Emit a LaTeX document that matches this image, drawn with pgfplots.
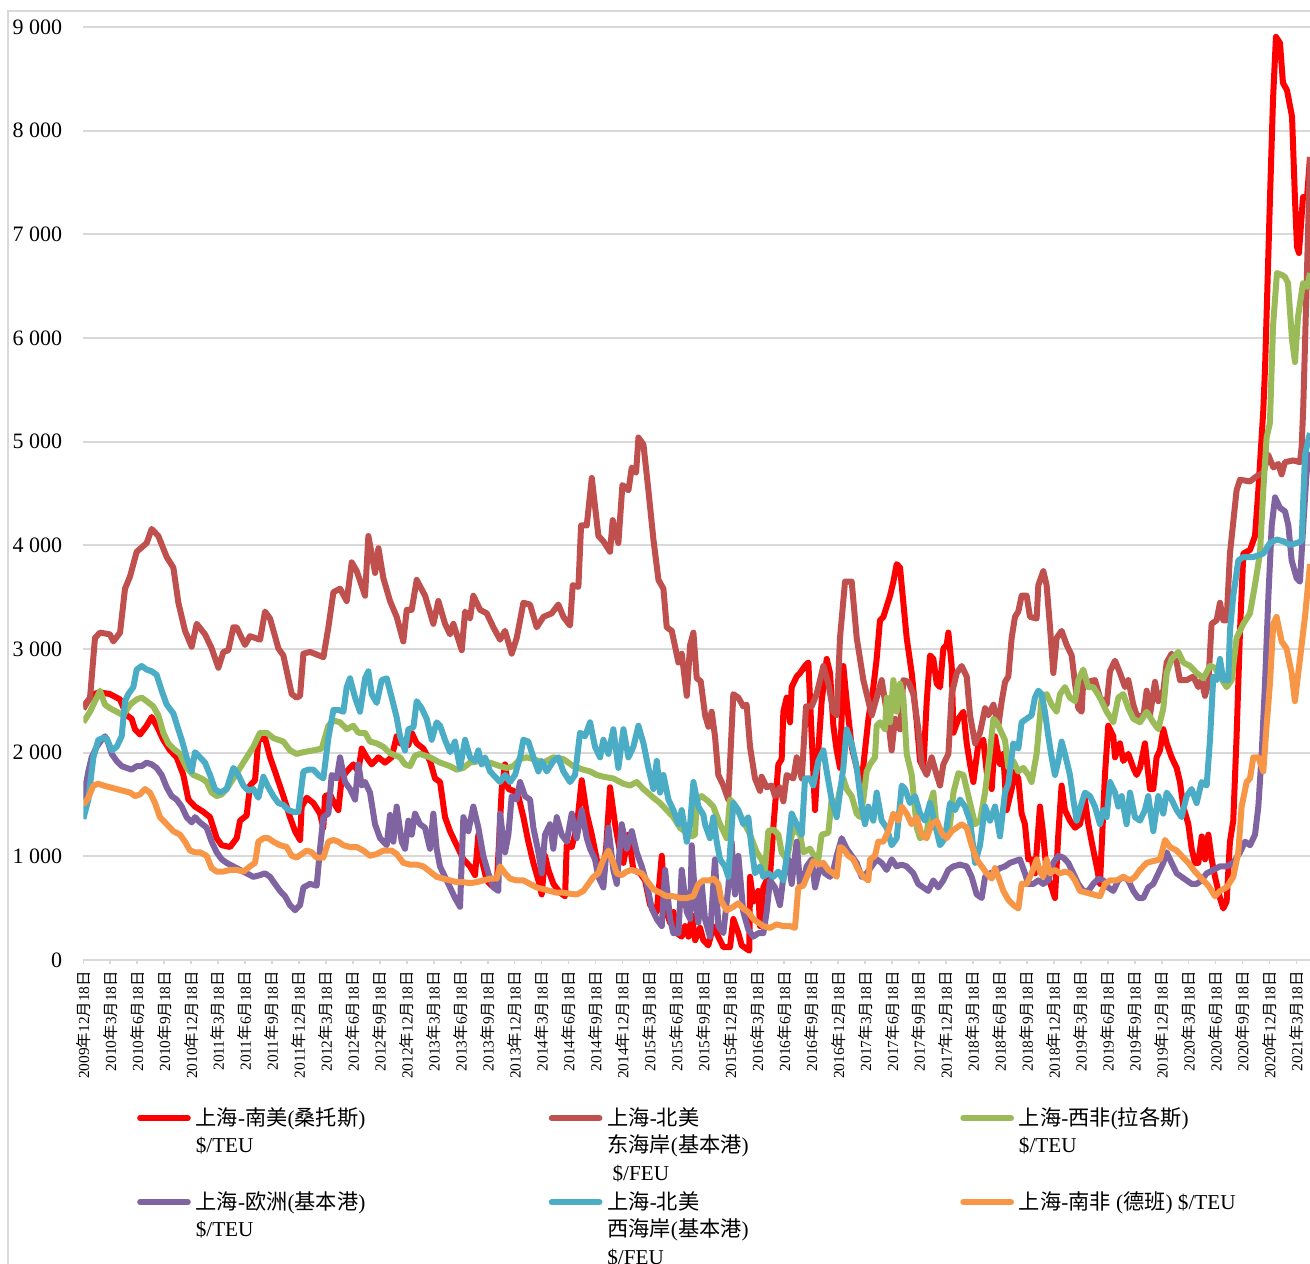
\documentclass[border=0pt]{standalone}
\usepackage{fontspec}
\setmainfont{Liberation Serif}
\newfontfamily\cjk{Noto Sans CJK SC}
\usepackage{pgfplots}
\pgfplotsset{compat=1.18}
\definecolor{cRed}{HTML}{FF0000}
\definecolor{cDRed}{HTML}{C0504D}
\definecolor{cGreen}{HTML}{9BBB59}
\definecolor{cPurple}{HTML}{8064A2}
\definecolor{cCyan}{HTML}{4BACC6}
\definecolor{cOrange}{HTML}{F79646}
\definecolor{cGrid}{HTML}{D9D9D9}
\newcommand\zh[1]{{\cjk #1}}
\newcommand\dlab[2]{#1\zh{年}#2\zh{月}18\zh{日}}
\newcommand\legtxt[1]{\parbox[t]{150pt}{\fontsize{10.6}{13.75}\selectfont\raggedright #1}}
\begin{document}
\begin{tikzpicture}
\useasboundingbox (0pt,0pt) rectangle (655pt,631.5pt);
\draw[cGrid, line width=1pt] (4pt,-20pt) -- (4pt,626pt) -- (700pt,626pt);
\begin{axis}[
  at={(41.65pt,151.5pt)}, anchor=south west,
  scale only axis, width=613.35pt, height=466.5pt,
  xmin=0, xmax=136.5, ymin=0, ymax=9000,
  axis x line*=bottom, axis y line*=left,
  x axis line style={cGrid, line width=1pt},
  y axis line style={draw=none},
  xtick={0,3,...,135},
  xticklabels={\dlab{2009}{12},\dlab{2010}{3},\dlab{2010}{6},\dlab{2010}{9},\dlab{2010}{12},\dlab{2011}{3},\dlab{2011}{6},\dlab{2011}{9},\dlab{2011}{12},\dlab{2012}{3},\dlab{2012}{6},\dlab{2012}{9},\dlab{2012}{12},\dlab{2013}{3},\dlab{2013}{6},\dlab{2013}{9},\dlab{2013}{12},\dlab{2014}{3},\dlab{2014}{6},\dlab{2014}{9},\dlab{2014}{12},\dlab{2015}{3},\dlab{2015}{6},\dlab{2015}{9},\dlab{2015}{12},\dlab{2016}{3},\dlab{2016}{6},\dlab{2016}{9},\dlab{2016}{12},\dlab{2017}{3},\dlab{2017}{6},\dlab{2017}{9},\dlab{2017}{12},\dlab{2018}{3},\dlab{2018}{6},\dlab{2018}{9},\dlab{2018}{12},\dlab{2019}{3},\dlab{2019}{6},\dlab{2019}{9},\dlab{2019}{12},\dlab{2020}{3},\dlab{2020}{6},\dlab{2020}{9},\dlab{2020}{12},\dlab{2021}{3}},
  xtick style={cGrid, line width=0.8pt},
  tick align=outside,
  major tick length=2pt,
  ytick={0,1000,...,9000},
  ytick style={draw=none},
  ymajorgrids, grid style={cGrid, line width=0.9pt},
  yticklabel style={font=\fontsize{11}{13}\selectfont, xshift=-5pt},
  /pgf/number format/assume math mode=true,
  /pgf/number format/1000 sep={\ },
  scaled y ticks=false,
  xticklabel style={rotate=90, anchor=east, font=\fontsize{7.7}{8}\selectfont},
  every axis plot/.append style={line width=3pt, line join=round},
  legend columns=3,
  legend style={at={(0.0436,-0.1533)}, anchor=north west, draw=none, fill=none, inner sep=0pt, column sep=0pt, row sep=27.5pt,
    cells={anchor=base west, inner sep=0pt},
    /tikz/every odd column/.append style={column sep=0.5pt},
    /tikz/every even column/.append style={column sep=24.5pt}},
  legend image code/.code={\draw[line width=2.8pt, line cap=round] (0pt,3.6pt) -- (24pt,3.6pt);},
]
% 上海-南美(桑托斯)
\addplot[cRed] coordinates {(0,2446) (1.12,2565) (1.86,2582) (2.97,2565) (4.08,2514) (4.82,2361) (5.38,2327) (5.75,2226) (6.31,2175) (7.05,2260) (7.61,2344) (8.16,2260) (8.9,2124) (9.65,2022) (10.39,1955) (11.13,1785) (11.69,1548) (12.43,1480) (13.36,1429) (14.1,1378) (14.84,1175) (15.4,1107) (16.33,1090) (17.07,1175) (17.44,1344) (18.18,1395) (18.55,1683) (19.11,1734) (19.48,2124) (20.22,2141) (20.78,1955) (21.33,1819) (22.26,1581) (23,1378) (23.56,1243) (24.12,1158) (24.3,1480) (24.86,1565) (25.6,1514) (26.34,1412) (26.71,1276) (26.9,1581) (27.45,1598) (28.01,1497) (28.38,1446) (28.75,1751) (29.31,1819) (30.05,1887) (30.6,1819) (30.98,2039) (31.53,1955) (32.09,1887) (32.83,1955) (33.57,1904) (34.31,1955) (34.87,2158) (35.24,2090) (36.17,2073) (36.54,2192) (37.1,2090) (37.84,2039) (38.58,1920) (39.14,1751) (39.7,1717) (40.25,1378) (40.81,1243) (41.36,1141) (41.74,1073) (42.29,971) (43.03,903) (43.59,819) (43.96,1209) (44.33,971) (44.89,768) (45.44,717) (46,700) (46.56,1649) (46.93,1887) (47.3,1649) (47.86,1632) (48.41,1581) (48.97,1378) (49.52,1141) (50.08,937) (50.64,768) (51.01,632) (51.38,1005) (51.75,869) (52.31,734) (53.05,649) (53.61,615) (53.79,1107) (54.35,1090) (54.9,1276) (55.46,1734) (56.02,1412) (56.58,1209) (57.13,971) (57.69,785) (58.17,1073) (58.61,1666) (59.17,1310) (59.73,1039) (60.1,937) (60.66,1209) (61.21,869) (61.96,836) (62.51,768) (63.07,531) (63.81,463) (64.37,1005) (64.74,497) (65.29,361) (65.67,463) (66.04,259) (66.59,225) (66.96,327) (67.34,225) (67.71,429) (68.08,191) (68.63,310) (68.99,191) (69.55,141) (70.1,327) (70.66,225) (71.22,124) (71.96,124) (72.33,395) (72.89,259) (73.26,141) (73.81,107) (74.11,90) (74.19,802) (74.56,564) (75.11,666) (75.3,327) (75.67,700) (76.04,768) (76.41,802) (76.78,1276) (77.34,1887) (77.71,1937) (77.9,2395) (78.27,2531) (78.64,2293) (78.82,2632) (79.38,2734) (79.75,2768) (80.3,2836) (80.68,2870) (81.05,2158) (81.42,1446) (81.79,2022) (82.16,2497) (82.72,2904) (83.09,2768) (83.46,2260) (83.83,2022) (84.2,1853) (84.57,2836) (84.94,2497) (85.5,2056) (86.06,1853) (86.61,1717) (86.98,2022) (87.36,2327) (87.91,2632) (88.28,2904) (88.65,3277) (89.03,3310) (89.4,3412) (89.77,3514) (90.14,3650) (90.51,3819) (90.88,3785) (91.25,3446) (91.62,3107) (92.18,2768) (92.74,2293) (93.11,1920) (93.48,1853) (93.85,2497) (94.22,2938) (94.59,2904) (94.96,2666) (95.33,2632) (95.7,3005) (96.07,3039) (96.26,3158) (96.63,2836) (96.82,2192) (97.37,2327) (97.93,2395) (98.3,2090) (98.67,1887) (99.04,1717) (99.6,2090) (100.15,2124) (100.52,1819) (101.08,1649) (101.45,2158) (102,1890) (102.37,1988) (102.74,1446) (103.3,1649) (103.67,1819) (104.04,1751) (104.41,1412) (104.78,1310) (105.15,971) (105.52,971) (105.9,836) (106.45,1480) (106.82,1209) (107.19,836) (107.75,700) (108.12,598) (108.49,1209) (108.86,1683) (109.23,1446) (109.79,1344) (110.35,1276) (110.9,1310) (111.46,1548) (111.83,1310) (112.2,1141) (112.76,903) (113.13,734) (113.68,1785) (114.05,2260) (114.61,2158) (114.8,1955) (115.35,2090) (115.72,1920) (116.28,1988) (116.84,1853) (117.21,1785) (117.58,1853) (118.13,2090) (118.69,1649) (119.06,1649) (119.43,1955) (119.8,2022) (120.18,2226) (120.55,2090) (121.1,1955) (121.66,1853) (122.03,1717) (122.4,1480) (122.96,1310) (123.33,1073) (123.7,937) (124.07,937) (124.45,1192) (124.82,971) (125.19,1209) (125.56,971) (125.93,802) (126.48,598) (126.85,497) (127.22,564) (127.59,1141) (127.96,1344) (128.33,2158) (128.71,3175) (129.08,3921) (129.82,3955) (130.38,4090) (130.75,4531) (131.3,5300) (131.5,5720) (132.04,7330) (132.38,8295) (132.71,8905) (133.16,8845) (133.49,8460) (133.94,8390) (134.5,8135) (134.83,7330) (135.05,6880) (135.27,6820) (135.72,7360) (136.17,7360) (136.5,7745)};
\addlegendentry{\legtxt{\zh{上海}-\zh{南美}(\zh{桑托斯})\\\$/TEU}}
% 上海-北美东海岸(基本港)
\addplot[cDRed] coordinates {(0,2420) (0.75,2531) (1.3,3107) (1.86,3158) (2.97,3141) (3.34,3073) (4.09,3158) (4.64,3582) (5.2,3700) (5.94,3938) (7.05,4022) (7.61,4158) (8.35,4090) (9.28,3887) (10.02,3785) (10.58,3446) (11.32,3175) (12.06,3022) (12.62,3243) (13.55,3141) (14.29,3005) (15.03,2819) (15.59,2972) (16.14,2988) (16.7,3209) (17.07,3209) (17.99,3039) (18.55,3124) (19.67,3090) (20.22,3361) (20.78,3294) (21.71,3005) (22.26,2938) (23.19,2565) (23.74,2531) (24.12,2548) (24.49,2955) (25.23,2972) (26.72,2921) (27.27,3209) (27.83,3548) (28.57,3582) (29.31,3463) (29.87,3836) (30.43,3751) (31.35,3514) (31.72,4090) (32.47,3734) (32.84,3972) (33.39,3683) (34.13,3463) (34.87,3310) (35.61,3073) (35.99,3378) (36.54,3378) (37.1,3666) (38.03,3514) (38.95,3243) (39.51,3463) (40.25,3243) (40.81,3141) (41.18,3243) (42.11,2988) (42.48,3361) (43.03,3294) (43.4,3514) (44.15,3378) (44.89,3344) (45.63,3209) (46.37,3090) (46.93,3175) (47.67,2955) (48.23,3107) (48.97,3446) (49.71,3429) (50.45,3209) (51.2,3310) (52.12,3344) (52.86,3429) (53.42,3310) (54.16,3226) (54.46,3616) (55.09,3599) (55.39,4192) (56.02,4192) (56.58,4650) (57.32,4090) (57.87,4039) (58.61,3938) (58.91,4243) (59.54,4022) (59.99,4582) (60.66,4531) (61.03,4751) (61.51,4700) (61.77,5040) (62.33,4972) (62.88,4531) (63.44,4056) (64,3666) (64.55,3582) (64.92,3209) (65.48,3175) (66.22,2870) (66.59,2955) (67.15,2548) (67.52,3039) (67.89,3158) (68.26,2717) (68.7,2690) (69.19,2361) (69.56,2250) (69.92,2395) (70.29,2158) (70.66,1785) (71.22,1683) (71.77,1548) (72.33,2565) (72.89,2531) (73.44,2446) (73.81,2463) (74.19,2056) (74.74,1751) (75.3,1632) (75.48,1768) (76.04,1666) (76.6,1683) (76.97,1582) (77.52,1666) (77.9,1531) (78.27,1785) (79.01,1751) (79.38,1955) (79.94,1751) (80.42,2446) (81.05,2446) (81.6,2565) (82.35,2836) (82.9,2666) (83.46,2395) (83.83,2361) (84.2,3107) (84.76,3650) (85.5,3650) (86.06,3107) (86.8,2700) (87.36,2497) (87.73,2361) (88.28,2531) (88.84,2700) (89.58,2293) (89.95,2022) (90.32,2327) (90.88,2225) (91.25,2700) (91.81,2683) (92.36,2565) (92.92,2225) (93.29,1887) (93.85,1785) (94.4,1955) (94.96,1785) (95.33,1683) (95.7,1887) (96.26,1988) (96.63,2565) (97.19,2768) (97.74,2836) (98.3,2734) (98.67,2361) (99.23,2090) (99.78,2192) (100.34,2429) (100.71,2361) (101.27,2463) (101.82,2260) (102.2,2500) (102.57,2683) (102.93,2734) (103.3,3107) (103.67,3310) (104.04,3361) (104.41,3514) (104.97,3514) (105.34,3310) (106.08,3294) (106.27,3616) (106.82,3751) (107.19,3616) (107.57,3209) (107.94,2768) (108.31,3107) (108.86,3175) (109.42,3039) (109.98,2938) (110.35,2666) (110.72,2429) (111.09,2395) (111.27,2700) (111.83,2683) (112.57,2700) (113.13,2531) (113.87,2463) (114.24,2785) (114.8,2887) (115.36,2768) (115.91,2632) (116.28,2700) (116.84,2463) (117.21,2361) (117.95,2344) (118.32,2598) (118.69,2361) (119.25,2683) (119.62,2497) (120.18,2598) (120.55,2870) (121.1,2955) (121.66,2870) (122.03,2700) (122.77,2700) (123.52,2734) (124.07,2632) (124.44,2700) (124.81,2548) (125.18,2666) (125.55,3243) (126.11,3277) (126.48,3446) (126.85,3277) (127.22,3277) (127.59,3921) (128.33,4531) (128.71,4633) (129.82,4616) (130.56,4667) (131.3,4700) (131.86,4870) (132.42,4751) (132.97,4785) (133.34,4684) (133.71,4802) (134.64,4819) (135.38,4802) (135.57,4950) (135.75,5337) (136.13,6530) (136.5,7746)};
\addlegendentry{\legtxt{\zh{上海}-\zh{北美}\\\zh{东海岸}(\zh{基本港})\\\hspace*{2.6pt}\$/FEU}}
% 上海-西非(拉各斯)
\addplot[cGreen] coordinates {(0,2293) (0.75,2395) (1.86,2598) (2.41,2463) (2.97,2429) (3.71,2395) (4.45,2361) (5.2,2463) (5.94,2514) (6.5,2531) (7.05,2497) (7.79,2446) (8.35,2361) (8.9,2192) (9.46,2090) (10.02,2039) (10.76,1988) (11.5,1853) (12.24,1785) (13.17,1751) (13.73,1717) (14.28,1615) (14.84,1581) (15.4,1598) (15.95,1649) (16.7,1751) (17.44,1853) (18.18,1955) (18.92,2056) (19.66,2192) (20.4,2192) (21.15,2141) (22.26,2107) (23,2022) (23.74,1988) (24.49,2005) (25.6,2022) (26.53,2039) (27.27,2260) (27.83,2310) (28.57,2293) (29.31,2226) (30.05,2260) (30.6,2192) (31.35,2192) (31.9,2107) (32.64,2090) (33.39,2056) (34.13,1995) (35.24,1955) (35.8,1887) (36.36,1870) (36.91,1971) (37.47,1988) (38.58,1955) (39.7,1904) (40.81,1870) (41.55,1836) (42.29,1853) (43.03,1904) (44.15,1920) (45.26,1904) (46.37,1870) (47.11,1853) (47.86,1870) (48.6,1938) (49.34,1955) (50.08,1938) (51.2,1904) (52.31,1955) (53.42,1938) (54.53,1870) (55.64,1836) (56.39,1819) (57.13,1785) (57.87,1768) (58.98,1751) (60.1,1700) (60.84,1683) (61.58,1717) (62.33,1649) (63.44,1565) (64.18,1514) (64.92,1446) (65.66,1378) (66.4,1276) (67.14,1226) (67.7,1192) (68.07,1209) (68.26,1548) (68.81,1581) (69.55,1531) (70.1,1480) (70.85,1310) (71.59,1175) (71.96,1548) (72.33,1514) (73.44,1344) (74.19,1209) (74.93,1039) (75.48,971) (75.85,869) (76.22,1243) (76.78,1260) (77.34,1209) (77.71,1039) (78.27,971) (79.01,1276) (79.75,1209) (80.12,1039) (80.86,1073) (81.42,988) (81.79,971) (82.16,1209) (82.9,1226) (83.27,1548) (83.83,1480) (84.2,1649) (84.57,1751) (84.94,1649) (85.5,1581) (86.06,1412) (86.43,1378) (86.8,1548) (87.17,1819) (87.54,1887) (88.1,1955) (88.28,2260) (88.65,2293) (89.21,2226) (89.4,2531) (89.77,2293) (90.14,2700) (90.51,2395) (90.88,2666) (91.25,2531) (91.62,1988) (92.18,1785) (92.74,1276) (93.11,1175) (93.85,1209) (94.22,1514) (94.59,1615) (94.96,1276) (95.52,1243) (96.07,1209) (96.44,1310) (96.82,1615) (97.37,1802) (97.93,1785) (98.67,1514) (99.23,1310) (99.78,1344) (100.34,1615) (100.9,2022) (101.27,2327) (101.64,2293) (102,2226) (102.56,2120) (102.93,1853) (103.48,1920) (104.04,1819) (104.6,1853) (105.15,1785) (105.52,1717) (106.08,1988) (106.64,2531) (107.19,2565) (107.75,2463) (108.31,2395) (108.68,2565) (109.23,2632) (109.79,2531) (110.35,2497) (110.72,2700) (111.27,2802) (111.83,2632) (112.39,2632) (113.13,2531) (113.87,2395) (114.61,2293) (115.17,2531) (115.72,2565) (116.28,2429) (116.84,2327) (117.58,2293) (118.32,2395) (119.06,2293) (119.62,2226) (120.18,2429) (120.55,2768) (121.1,2904) (121.85,2972) (122.4,2870) (123.15,2836) (123.89,2768) (124.63,2717) (125.37,2836) (125.93,2819) (126.48,2734) (127.22,2632) (127.78,2700) (128.33,3107) (129.08,3243) (129.82,3344) (130.37,3616) (130.93,3921) (131.3,4531) (131.67,5040) (132.04,5180) (132.38,6106) (132.82,6627) (133.38,6608) (133.72,6588) (134.05,6530) (134.5,5981) (134.83,5768) (135.16,6202) (135.72,6530) (136.17,6492) (136.5,6627)};
\addlegendentry{\legtxt{\zh{上海}-\zh{西非}(\zh{拉各斯})\\\$/TEU}}
% 上海-欧洲(基本港)
\addplot[cPurple] coordinates {(0,1547) (0.56,1819) (0.93,1955) (1.49,2056) (2.04,2124) (2.41,2158) (2.79,2090) (3.16,1988) (3.71,1920) (4.27,1870) (4.82,1853) (5.38,1836) (5.94,1870) (6.49,1870) (7.05,1904) (7.61,1887) (8.16,1853) (8.72,1785) (9.28,1666) (9.83,1581) (10.39,1547) (10.95,1480) (11.5,1378) (12.06,1327) (12.43,1378) (12.99,1327) (13.73,1276) (14.28,1141) (14.84,1039) (15.4,971) (15.95,937) (16.7,903) (17.44,869) (18.18,836) (18.92,802) (19.67,819) (20.22,836) (20.78,802) (21.33,734) (21.89,666) (22.45,615) (23,530) (23.56,480) (24.12,530) (24.49,700) (25.23,734) (25.97,717) (26.34,1073) (26.71,1378) (27.27,1412) (27.64,1785) (28.2,1751) (28.57,1955) (29.12,1717) (29.68,1649) (30.24,1547) (30.61,1887) (30.98,1683) (31.35,1717) (31.9,1615) (32.46,1310) (33.02,1175) (33.76,1107) (34.13,1400) (34.5,1141) (34.87,1480) (35.43,1141) (35.8,1073) (36.17,1344) (36.54,1209) (36.91,1412) (37.47,1310) (38.02,1276) (38.58,1073) (38.95,1412) (39.32,1073) (39.69,903) (40.25,802) (40.81,700) (41.36,598) (41.92,513) (42.29,1378) (42.85,1243) (43.4,1480) (43.96,1276) (44.51,1005) (45.07,836) (45.63,700) (46.18,666) (46.37,1412) (46.93,1039) (47.3,1209) (47.67,1581) (48.22,1547) (48.6,1717) (49.15,1581) (49.71,1547) (50.08,1276) (50.64,1039) (51.01,836) (51.38,1209) (51.93,1310) (52.3,1073) (52.68,1378) (53.23,1209) (53.79,1141) (54.35,1412) (54.9,1175) (55.46,1446) (56.02,1175) (56.39,1073) (56.94,971) (57.31,802) (57.87,700) (58.43,1276) (58.98,869) (59.36,734) (59.91,1310) (60.47,1073) (61.03,1243) (61.58,1039) (62.14,903) (62.7,734) (63.25,497) (63.81,395) (64.37,327) (64.74,869) (65.29,395) (65.66,259) (66.22,259) (66.59,869) (67.15,463) (67.52,395) (67.7,1107) (68.07,598) (68.44,361) (68.81,734) (69.18,395) (69.73,225) (70.29,971) (70.66,327) (71.22,259) (71.77,700) (72.14,1141) (72.52,632) (72.89,1005) (73.44,463) (74,293) (74.56,225) (75.11,259) (75.67,259) (76.04,463) (76.41,768) (76.97,700) (77.52,530) (77.9,802) (78.45,971) (78.82,734) (79.38,1141) (79.75,734) (80.12,768) (80.49,903) (81.05,971) (81.42,700) (81.97,903) (82.53,836) (83.09,802) (83.46,869) (83.83,1005) (84.39,1175) (84.94,1073) (85.5,1005) (86.05,937) (86.61,802) (87.17,836) (87.72,903) (88.28,971) (88.83,937) (89.39,869) (89.95,971) (90.5,903) (91.06,920) (91.62,903) (92.36,836) (92.91,734) (93.47,700) (94.03,666) (94.58,768) (95.14,700) (95.7,768) (96.25,869) (96.81,903) (97.55,920) (98.3,903) (98.85,802) (99.41,632) (99.97,598) (100.34,802) (100.89,836) (101.45,853) (102,886) (102.56,903) (103.11,937) (103.67,954) (104.22,971) (104.78,836) (105.15,734) (105.71,734) (106.27,768) (106.82,734) (107.38,768) (107.93,937) (108.49,1005) (109.05,988) (109.6,937) (110.16,836) (110.72,734) (111.27,666) (111.83,666) (112.38,734) (112.94,785) (113.5,768) (114.05,700) (114.61,666) (115.17,768) (115.72,802) (116.28,768) (116.84,666) (117.39,598) (117.95,598) (118.5,700) (119.06,734) (119.62,836) (120.17,937) (120.55,1039) (121.1,937) (121.66,836) (122.21,802) (122.77,768) (123.33,734) (123.88,734) (124.44,768) (125,836) (125.74,869) (126.48,903) (127.22,903) (127.96,937) (128.71,1039) (129.27,1141) (129.82,1107) (130.38,1209) (130.75,1480) (131.12,1988) (131.49,2666) (131.87,3514) (132.24,4192) (132.61,4463) (133.16,4361) (133.72,4328) (134.09,4192) (134.46,3853) (135.01,3683) (135.38,3649) (135.75,4192) (136.12,4700) (136.5,4900)};
\addlegendentry{\legtxt{\zh{上海}-\zh{欧洲}(\zh{基本港})\\\$/TEU}}
% 上海-北美西海岸(基本港)
\addplot[cCyan] coordinates {(0,1361) (0.56,1548) (1.12,1955) (1.67,2124) (2.23,2141) (2.6,2141) (3.16,2022) (3.71,2056) (4.27,2158) (4.64,2497) (5.01,2565) (5.57,2632) (5.94,2802) (6.49,2836) (7.05,2802) (7.61,2785) (8.16,2751) (8.72,2598) (9.28,2463) (10.02,2378) (10.57,2226) (10.95,2124) (11.5,1955) (12.06,1819) (12.43,2005) (12.99,1955) (13.54,1904) (14.1,1785) (14.65,1649) (15.21,1615) (15.95,1649) (16.7,1853) (17.25,1785) (17.81,1683) (18.37,1632) (18.92,1649) (19.48,1565) (20.04,1768) (20.59,1666) (21.15,1581) (21.71,1514) (22.26,1497) (22.82,1446) (23.37,1429) (23.93,1429) (24.49,1819) (25.04,1836) (25.6,1836) (26.16,1785) (26.71,1751) (27.27,2141) (27.83,2412) (28.39,2412) (28.94,2395) (29.31,2632) (29.68,2717) (30.24,2531) (30.79,2395) (31.35,2717) (31.72,2785) (32.09,2565) (32.65,2480) (33.2,2700) (33.76,2717) (34.32,2531) (34.87,2340) (35.24,2158) (35.8,2022) (36.17,2226) (36.73,2243) (37.1,2497) (37.65,2429) (38.21,2327) (38.77,2124) (39.32,2293) (39.7,2260) (40.25,2124) (40.81,2005) (41.36,2107) (41.92,1853) (42.48,2124) (43.03,1955) (43.59,1920) (43.96,2022) (44.33,1887) (44.7,1955) (45.26,1819) (45.82,1768) (46.37,1717) (46.93,1785) (47.48,1717) (48.04,1785) (48.6,1955) (48.97,2124) (49.52,2107) (50.08,1955) (50.64,1819) (51.01,1920) (51.56,1819) (52.31,1920) (52.86,1955) (53.42,1819) (54.16,1717) (54.72,1785) (55.27,2192) (55.83,2158) (56.39,2293) (56.94,2056) (57.5,1955) (57.87,2124) (58.43,1988) (58.98,2226) (59.54,1853) (60.1,2226) (60.66,1955) (61.21,2056) (61.77,2260) (62.33,2090) (62.88,1853) (63.44,1649) (63.81,1920) (64.18,1615) (64.55,1785) (65.11,1548) (65.66,1446) (66.22,1310) (66.59,1446) (67.15,1141) (67.52,1310) (67.89,1717) (68.44,1480) (69,1400) (69.18,1310) (69.73,1175) (70.1,1378) (70.48,1141) (70.85,971) (71.4,903) (71.77,802) (72.33,1514) (72.89,1446) (73.44,1310) (74,1378) (74.37,1073) (74.74,836) (75.3,903) (75.67,802) (76.22,836) (76.78,802) (77.34,853) (77.9,768) (78.45,1107) (78.82,1412) (79.38,1310) (79.94,1209) (80.31,1751) (80.86,1751) (81.23,1683) (81.79,1920) (82.35,2022) (82.72,1819) (83.27,1548) (83.83,1378) (84.2,1615) (84.57,1853) (84.94,2226) (85.5,2090) (86.06,1853) (86.61,1480) (86.98,1310) (87.35,1480) (87.91,1344) (88.28,1615) (88.84,1344) (89.4,1276) (89.95,1107) (90.51,1175) (91.07,1683) (91.44,1649) (91.99,1514) (92.55,1581) (93.11,1412) (93.66,1344) (94.22,1514) (94.77,1310) (95.33,1107) (95.89,1175) (96.44,1514) (97,1446) (97.55,1548) (98.11,1480) (98.67,1344) (99.23,937) (99.78,1107) (100.34,1480) (100.9,1344) (101.45,1480) (102,1192) (102.56,1615) (102.93,1700) (103.48,2090) (104.04,2039) (104.41,2293) (104.97,2327) (105.52,2361) (105.89,2531) (106.27,2598) (106.64,2565) (107,2395) (107.38,2158) (107.75,1955) (108.12,1785) (108.49,1920) (108.86,2107) (109.23,1988) (109.79,1785) (110.16,1548) (110.53,1344) (111.09,1514) (111.46,1615) (112.02,1581) (112.57,1480) (113.13,1310) (113.5,1446) (113.87,1378) (114.24,1717) (114.8,1615) (115.17,1480) (115.54,1581) (116.09,1310) (116.47,1615) (117.02,1378) (117.58,1344) (118.13,1446) (118.5,1581) (119.06,1243) (119.62,1581) (120.17,1412) (120.55,1615) (121.1,1548) (121.66,1446) (122.21,1378) (122.77,1581) (123.33,1649) (123.88,1514) (124.44,1717) (125,1683) (125.37,2124) (125.74,2734) (126.11,2700) (126.48,2904) (126.85,2700) (127.41,2700) (127.59,3175) (127.96,3514) (128.52,3853) (129.08,3887) (130.19,3887) (131.3,3921) (132.04,4022) (132.79,4056) (133.53,4039) (134.27,4005) (135.01,4022) (135.57,4039) (135.94,4870) (136.3,5016) (136.5,5083)};
\addlegendentry{\legtxt{\zh{上海}-\zh{北美}\\\zh{西海岸}(\zh{基本港})\\\$/FEU}}
% 上海-南非(德班)
\addplot[cOrange] coordinates {(0,1497) (0.56,1565) (1.12,1683) (1.67,1700) (2.23,1683) (2.97,1666) (3.71,1649) (4.45,1632) (5.2,1615) (5.75,1581) (6.31,1598) (6.86,1649) (7.42,1615) (7.98,1514) (8.53,1378) (9.28,1310) (10.02,1243) (10.76,1209) (11.32,1141) (11.87,1056) (12.43,1039) (12.99,1039) (13.73,1005) (14.28,886) (14.84,853) (15.58,853) (16.33,869) (17.07,869) (17.81,853) (18.55,903) (19.11,937) (19.48,1141) (20.04,1175) (20.59,1175) (21.15,1141) (21.89,1107) (22.63,1090) (23.19,1005) (23.74,988) (24.3,1022) (24.86,1056) (25.41,1039) (25.97,988) (26.71,988) (27.27,1141) (27.83,1158) (28.38,1141) (28.94,1107) (29.68,1090) (30.42,1090) (31.16,1056) (31.9,1005) (32.64,1022) (33.39,1056) (34.31,1056) (34.87,1022) (35.61,937) (36.36,920) (37.1,920) (37.84,903) (38.58,853) (39.32,802) (40.06,785) (40.81,768) (41.55,751) (42.29,751) (43.03,741) (43.77,751) (44.52,768) (45.26,785) (46,785) (46.37,903) (46.93,836) (47.48,785) (48.22,768) (48.97,768) (49.71,734) (50.45,700) (51.19,683) (51.93,666) (52.68,649) (53.42,649) (54.16,639) (54.9,632) (55.64,666) (56.2,734) (56.76,802) (57.31,836) (57.87,971) (58.43,1056) (58.98,937) (59.35,836) (59.91,819) (60.47,853) (61.02,869) (61.58,853) (62.14,836) (62.69,768) (63.43,683) (64.17,649) (64.92,615) (65.66,615) (66.4,598) (67.14,598) (67.88,615) (68.44,734) (69,768) (69.74,768) (70.1,785) (70.66,734) (71.03,564) (71.59,480) (72.33,513) (72.88,547) (73.44,497) (74,463) (74.55,395) (75.11,361) (75.67,327) (76.41,310) (77.15,344) (77.89,327) (78.63,327) (79.19,310) (79.56,700) (80.12,717) (80.67,836) (81.23,954) (81.79,920) (82.34,937) (82.9,869) (83.46,836) (83.83,802) (84.2,1090) (84.57,1073) (85.13,1005) (85.68,971) (86.24,869) (86.8,802) (87.35,768) (87.54,971) (88.09,1005) (88.46,1141) (89.02,1141) (89.58,1243) (90.13,1412) (90.69,1344) (91.06,1480) (91.62,1412) (92.17,1310) (92.73,1378) (93.29,1209) (93.84,1175) (94.4,1310) (94.96,1344) (95.51,1226) (96.07,1175) (96.63,1243) (97.18,1276) (97.74,1310) (98.3,1276) (98.85,1107) (99.41,971) (99.97,903) (100.52,836) (101.08,785) (101.45,886) (101.82,802) (102.38,666) (102.93,581) (103.49,530) (104.05,497) (104.41,734) (104.97,734) (105.52,836) (106.08,971) (106.45,853) (106.82,802) (107.19,971) (107.56,836) (108.12,869) (108.68,836) (109.23,853) (109.79,836) (110.35,768) (110.9,666) (111.64,649) (112.39,632) (113.13,615) (113.68,734) (114.24,768) (114.98,768) (115.72,802) (116.47,768) (117.02,802) (117.58,869) (118.32,937) (119.06,954) (119.81,971) (120.36,1158) (120.92,1090) (121.66,1056) (122.21,1005) (122.96,937) (123.7,853) (124.44,785) (125.19,717) (125.93,615) (126.48,666) (127.22,700) (127.96,802) (128.52,1039) (128.89,1480) (129.45,1717) (129.82,1751) (130.19,1955) (130.75,1955) (131.3,1819) (131.67,2260) (132.04,2666) (132.41,3243) (132.78,3310) (133.34,3073) (133.89,3005) (134.45,2768) (134.82,2497) (135.38,2904) (135.94,3310) (136.5,3819)};
\addlegendentry{\legtxt{\zh{上海}-\zh{南非} (\zh{德班}) \$/TEU}}
\end{axis}
\end{tikzpicture}
\end{document}
